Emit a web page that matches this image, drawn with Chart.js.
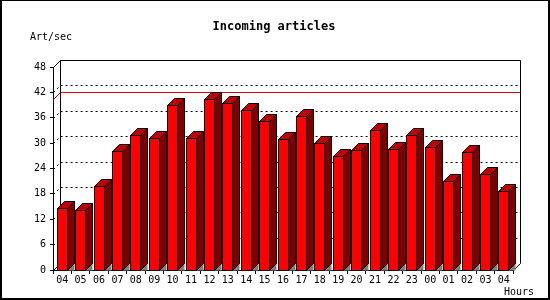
<!DOCTYPE html>
<html>
<head>
<meta charset="utf-8">
<script src="https://cdn.jsdelivr.net/npm/chart.js@4/dist/chart.umd.min.js"></script>
<style>
  body { margin: 0; background: #fff; }
  #wrap { width: 550px; height: 300px; }
</style>
</head>
<body>
<div id="wrap"><canvas id="myChart" width="550" height="300"></canvas></div>
<script>
// hours of the day, starting and ending at 04
var hours = ["04", "05", "06", "07", "08", "09", "10", "11", "12", "13", "14", "15", "16",
             "17", "18", "19", "20", "21", "22", "23", "00", "01", "02", "03", "04"];
// incoming articles per second
var artPerSec = [14.6, 14.2, 19.8, 28.1, 31.9, 31.1, 39.0, 31.1, 40.5, 39.4, 37.8, 35.2, 30.9,
                 36.3, 30.1, 26.9, 28.3, 33.0, 28.5, 32.0, 29.2, 21.0, 27.8, 22.6, 18.6];
var yMax = 48;
var yStep = 6;

var chartTitle = "Incoming articles";
var yUnit = "Art/sec";
var xUnit = "Hours";

var depth = 7;
var mono = "'DejaVu Sans Mono', monospace";

function px(v) {
    return Math.round(v) + 0.5;
}

// back wall, dotted grid and max line (behind the bars)
var backWall = {
    id: 'backWall',
    beforeDatasetsDraw: function (chart) {
        var ctx = chart.ctx;
        var a = chart.chartArea;
        var ys = chart.scales.y;
        var L = Math.round(a.left), R = Math.round(a.right);
        var T = Math.round(a.top), B = Math.round(a.bottom);
        ctx.save();
        ctx.lineWidth = 1;
        ctx.strokeStyle = '#000';

        ctx.setLineDash([2, 3]);
        for (var v = yStep; v < yMax; v += yStep) {
            var py = Math.round(ys.getPixelForValue(v));
            ctx.beginPath();
            ctx.moveTo(L + 0.5, py + 0.5);
            ctx.lineTo(L + depth + 0.5, py - depth + 0.5);
            ctx.lineTo(R + depth + 0.5, py - depth + 0.5);
            ctx.stroke();
        }
        ctx.setLineDash([]);

        // max value line
        var maxVal = Math.max.apply(null, artPerSec);
        var my = Math.round(ys.getPixelForValue(maxVal));
        ctx.strokeStyle = '#e00000';
        ctx.beginPath();
        ctx.moveTo(L + 0.5, my + 0.5);
        ctx.lineTo(L + depth + 0.5, my - depth + 0.5);
        ctx.lineTo(R + depth + 0.5, my - depth + 0.5);
        ctx.stroke();

        // wall outline
        ctx.strokeStyle = '#000';
        ctx.beginPath();
        ctx.moveTo(L + 0.5, T + 0.5);
        ctx.lineTo(L + depth + 0.5, T - depth + 0.5);
        ctx.lineTo(R + depth + 0.5, T - depth + 0.5);
        ctx.lineTo(R + depth + 0.5, B - depth + 0.5);
        ctx.lineTo(R + 0.5, B + 0.5);
        ctx.moveTo(L + depth + 0.5, T - depth + 0.5);
        ctx.lineTo(L + depth + 0.5, B - depth + 0.5);
        ctx.lineTo(L + 0.5, B + 0.5);
        ctx.stroke();
        ctx.restore();
    }
};

// turn the flat bars into 3d boxes
var bars3d = {
    id: 'bars3d',
    afterDatasetsDraw: function (chart) {
        var ctx = chart.ctx;
        var meta = chart.getDatasetMeta(0);
        var d = depth;
        ctx.save();
        ctx.lineWidth = 1;
        ctx.strokeStyle = '#000';
        meta.data.forEach(function (bar) {
            var p = bar.getProps(['x', 'y', 'base', 'width'], true);
            var l = Math.round(p.x - p.width / 2);
            var r = l + Math.round(p.width);
            var t = Math.round(p.y);
            var b = Math.round(p.base);

            // floor shadow
            ctx.fillStyle = '#808080';
            ctx.beginPath();
            ctx.moveTo(r - 0.5, b + 0.5);
            ctx.lineTo(r - 0.5 + d, b + 0.5 - d);
            ctx.lineTo(r - 0.5 + d, b + 0.5);
            ctx.closePath();
            ctx.fill();

            // front face
            ctx.fillStyle = '#ff0000';
            ctx.fillRect(l, t, r - l, b - t);
            ctx.strokeRect(l + 0.5, t + 0.5, r - l - 1, b - t);

            // top face
            ctx.fillStyle = '#c00000';
            ctx.beginPath();
            ctx.moveTo(l + 0.5, t + 0.5);
            ctx.lineTo(l + 0.5 + d, t + 0.5 - d);
            ctx.lineTo(r - 0.5 + d, t + 0.5 - d);
            ctx.lineTo(r - 0.5, t + 0.5);
            ctx.closePath();
            ctx.fill();
            ctx.stroke();

            // side face
            ctx.fillStyle = '#800000';
            ctx.beginPath();
            ctx.moveTo(r - 0.5, t + 0.5);
            ctx.lineTo(r - 0.5 + d, t + 0.5 - d);
            ctx.lineTo(r - 0.5 + d, b + 0.5 - d);
            ctx.lineTo(r - 0.5, b + 0.5);
            ctx.closePath();
            ctx.fill();
            ctx.stroke();
        });
        ctx.restore();
    }
};

// titles and frame
var labels = {
    id: 'labels',
    afterDraw: function (chart) {
        var ctx = chart.ctx;
        ctx.save();
        ctx.fillStyle = '#000';
        ctx.textBaseline = 'middle';

        ctx.font = 'bold 12px ' + mono;
        ctx.textAlign = 'center';
        ctx.fillText(chartTitle, 274, 27);

        ctx.font = '10px ' + mono;
        ctx.textAlign = 'left';
        ctx.fillText(yUnit, 30, 37);
        ctx.textAlign = 'right';
        ctx.fillText(xUnit, 534, 292);

        ctx.fillRect(0, 0, 550, 1);
        ctx.fillRect(0, 0, 2, 300);
        ctx.fillRect(548, 0, 2, 300);
        ctx.fillRect(0, 298, 550, 2);
        ctx.restore();
    }
};

function runGraphic() {
    var ctx = document.getElementById('myChart').getContext('2d');
    var chart = new Chart(ctx, {
        type: 'bar',
        data: {
            labels: hours,
            datasets: [{
                label: chartTitle,
                data: artPerSec,
                backgroundColor: 'rgba(0,0,0,0)',
                borderWidth: 0,
                barThickness: 11
            }]
        },
        options: {
            responsive: false,
            animation: false,
            layout: {
                padding: { top: 67, right: 37, bottom: 0, left: 0 }
            },
            plugins: {
                legend: { display: false },
                tooltip: { enabled: false },
                title: { display: false }
            },
            scales: {
                x: {
                    afterFit: function (scale) { scale.height = 30; },
                    grid: {
                        offset: true,
                        drawOnChartArea: false,
                        drawTicks: true,
                        tickLength: 4,
                        color: '#000'
                    },
                    border: { display: true, color: '#000' },
                    ticks: {
                        color: '#000',
                        padding: 0,
                        maxRotation: 0,
                        autoSkip: false,
                        font: { family: mono, size: 10 }
                    }
                },
                y: {
                    min: 0,
                    max: yMax,
                    afterFit: function (scale) { scale.width = 53; },
                    grid: {
                        drawOnChartArea: false,
                        drawTicks: true,
                        tickLength: 3,
                        color: '#000'
                    },
                    border: { display: true, color: '#000' },
                    ticks: {
                        stepSize: yStep,
                        color: '#000',
                        padding: 4,
                        font: { family: mono, size: 10 }
                    }
                }
            }
        },
        plugins: [backWall, bars3d, labels]
    });
}

runGraphic();
</script>
</body>
</html>
